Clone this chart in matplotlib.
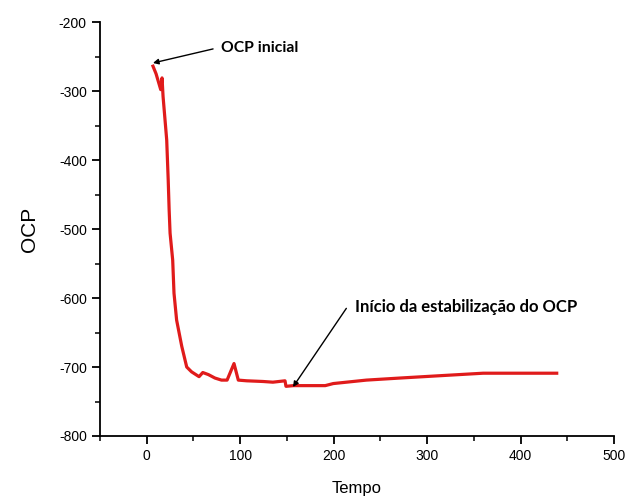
import matplotlib
matplotlib.use("Agg")
import matplotlib.pyplot as plt
from matplotlib.ticker import MultipleLocator

plt.rcParams["axes.unicode_minus"] = False

tempo = [6.7, 10, 15, 16.4, 17.5, 21.4, 23, 24, 25, 27.8, 29.2, 32, 37.5, 42.8, 48, 56, 60,
         66, 73, 80, 86, 93.4, 98, 107, 124.5, 135, 148, 149, 157, 167, 191, 199.6, 235,
         271, 314, 360, 438.7]
ocp = [-264, -275, -298, -281, -308, -371, -429, -472, -506, -545, -593, -632, -670, -700,
       -707, -714, -708, -711, -716, -719, -719, -695, -719, -720, -721, -722, -720, -728,
       -727, -727, -727, -724, -719, -716, -712.6, -709, -709]

fig = plt.figure(figsize=(6.3, 4.98), dpi=100)
ax = fig.add_axes([0.1587, 0.1245, 0.8159, 0.8313])
ax.plot(tempo, ocp, color="#e01b1b", lw=2.3, solid_joinstyle="round")
ax.set_xlim(-50, 500)
ax.set_ylim(-800, -200)
ax.xaxis.set_major_locator(MultipleLocator(100))
ax.xaxis.set_minor_locator(MultipleLocator(50))
ax.yaxis.set_major_locator(MultipleLocator(100))
ax.yaxis.set_minor_locator(MultipleLocator(50))
for s in ["top", "right"]:
    ax.spines[s].set_visible(False)
for s in ["left", "bottom"]:
    ax.spines[s].set_linewidth(1.3)
ax.tick_params(which="major", direction="out", length=6, width=1.3, labelsize=10)
ax.tick_params(which="minor", direction="out", length=3.5, width=1.1)
for lab in ax.get_xticklabels() + ax.get_yticklabels():
    lab.set_family("Liberation Sans")
ax.set_xlabel("Tempo", fontsize=12, family="Liberation Sans", labelpad=13)
ax.set_ylabel("OCP", fontsize=15, family="Liberation Sans", labelpad=14)

arrow = dict(arrowstyle="-|>", color="black", lw=1.0, mutation_scale=8, shrinkA=0, shrinkB=0)
ax.annotate("", xy=(6.7, -259.4), xytext=(71, -239), arrowprops=arrow)
ax.text(80, -238, "OCP inicial", fontsize=11.3, fontweight="bold", family="Lato",
        va="center", ha="left")
ax.annotate("", xy=(156.5, -729), xytext=(213.6, -615), arrowprops=arrow)
ax.text(222.8, -613, "Início da estabilização do OCP", fontsize=12, fontweight="bold",
        family="Lato", va="center", ha="left")
fig.savefig("out.png", dpi=100)
